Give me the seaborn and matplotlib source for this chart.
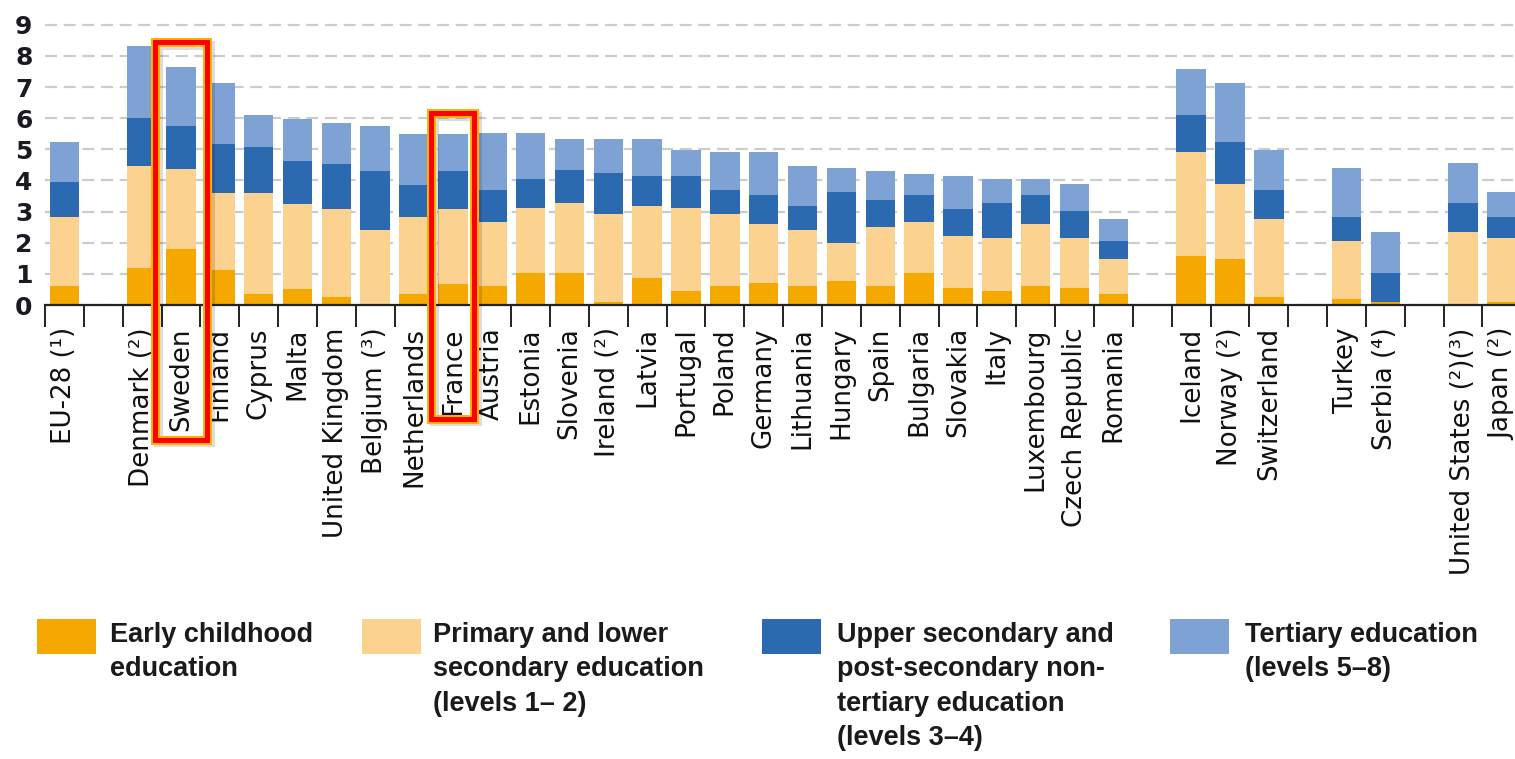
import matplotlib
matplotlib.use("Agg")
import matplotlib.pyplot as plt
import matplotlib.patheffects as pe
from matplotlib.patches import Rectangle
from matplotlib.ticker import FixedLocator
import numpy as np
import pandas as pd
import seaborn as sns

# -----------------------------
# DATA
# -----------------------------
groups = [
    ["EU-28 (¹)"],
    ["Denmark (²)", "Sweden", "Finland", "Cyprus", "Malta", "United Kingdom",
     "Belgium (³)", "Netherlands", "France", "Austria", "Estonia", "Slovenia",
     "Ireland (²)", "Latvia", "Portugal", "Poland", "Germany", "Lithuania",
     "Hungary", "Spain", "Bulgaria", "Slovakia", "Italy", "Luxembourg",
     "Czech Republic", "Romania"],
    ["Iceland", "Norway (²)", "Switzerland"],
    ["Turkey", "Serbia (⁴)"],
    ["United States (²)(³)", "Japan (²)"],
]
countries = [c for g in groups for c in g]

early = [0.60, 1.19, 1.80, 1.11, 0.34, 0.52, 0.26, 0.00, 0.34, 0.68, 0.61,
         1.04, 1.04, 0.11, 0.88, 0.44, 0.62, 0.70, 0.62, 0.78, 0.62, 1.04,
         0.53, 0.45, 0.61, 0.53, 0.35, 1.56, 1.47, 0.27, 0.18, 0.09, 0.00,
         0.09]
primary = [2.22, 3.28, 2.58, 2.50, 3.27, 2.73, 2.82, 2.40, 2.48, 2.40, 2.06,
           2.06, 2.23, 2.82, 2.31, 2.66, 2.31, 1.89, 1.80, 1.21, 1.88, 1.63,
           1.69, 1.71, 1.98, 1.63, 1.12, 3.35, 2.41, 2.49, 1.89, 0.00, 2.33,
           2.07]
upper = [1.13, 1.55, 1.38, 1.55, 1.46, 1.38, 1.46, 1.89, 1.05, 1.21, 1.03,
         0.95, 1.05, 1.30, 0.94, 1.03, 0.77, 0.94, 0.77, 1.63, 0.87, 0.86,
         0.87, 1.11, 0.94, 0.86, 0.60, 1.20, 1.37, 0.94, 0.77, 0.95, 0.94,
         0.68]
tertiary = [1.30, 2.30, 1.88, 1.96, 1.02, 1.36, 1.29, 1.46, 1.62, 1.20, 1.81,
            1.46, 1.02, 1.11, 1.21, 0.86, 1.21, 1.38, 1.29, 0.77, 0.93, 0.69,
            1.04, 0.78, 0.52, 0.86, 0.69, 1.46, 1.89, 1.29, 1.55, 1.29, 1.29,
            0.78]

legend_labels = [
    "Early childhood\neducation",
    "Primary and lower\nsecondary education\n(levels 1– 2)",
    "Upper secondary and\npost-secondary non-\ntertiary education\n(levels 3–4)",
    "Tertiary education\n(levels 5–8)",
]
colors = ["#F5A800", "#FCD291", "#2B69B0", "#7EA2D4"]

# blank slots between the country groups
slot_order = []
for k, g in enumerate(groups):
    if k > 0:
        slot_order.append(" " * k)
    slot_order.extend(g)

# -----------------------------
# FIGURE
# -----------------------------
W, H = 1515, 759
sns.set_theme(style="white")
plt.rcParams["font.family"] = ["DejaVu Sans"]

fig = plt.figure(figsize=(W / 100, H / 100), dpi=100)
ax = fig.add_axes([45 / W, 1 - 305 / H, 1 - 45 / W, (305 - 17) / H])

df = pd.DataFrame({"country": countries, "early": early, "primary": primary,
                   "upper": upper, "tertiary": tertiary})
parts = ["early", "primary", "upper", "tertiary"]
cum = df[parts].cumsum(axis=1)

# stacked bars: draw running totals from the top layer down
for part, color in reversed(list(zip(parts, colors))):
    sns.barplot(x=df["country"], y=cum[part], order=slot_order, color=color,
                width=0.76, saturation=1, errorbar=None, linewidth=0,
                ax=ax, zorder=2)

ax.set_xlabel("")
ax.set_ylabel("")
ax.set_xlim(-0.5, -0.5 + (W - 45) / 38.85)
ax.set_ylim(0, 9.25)
ax.set_yticks(range(10))

ax.set_axisbelow(True)
ax.yaxis.grid(True, color="#cccccc", linestyle=(0, (5.4, 3)), linewidth=1.6)
ax.xaxis.grid(False)

sns.despine(ax=ax, left=True)
ax.spines["bottom"].set_linewidth(1.6)
ax.spines["bottom"].set_color("#222222")

ax.tick_params(axis="y", length=0, pad=9, labelsize=18, labelcolor="#1a1a22")
for t in ax.get_yticklabels():
    t.set_fontweight("bold")
ax.tick_params(axis="x", which="major", length=0, pad=16, labelsize=18.8,
               labelrotation=90, labelcolor="#111111")
ax.xaxis.set_minor_locator(FixedLocator(np.arange(len(slot_order) + 1) - 0.5))
ax.tick_params(axis="x", which="minor", bottom=True, length=16, width=1.4,
               color="#222222", direction="out")

# red highlight boxes (half width, top, bottom in data units)
highlight = {"Sweden": (0.67, 8.44, -4.32), "France": (0.553, 6.16, -3.65)}
for name, (hw, top, bot) in highlight.items():
    i = slot_order.index(name)
    box = Rectangle((i - hw, bot), 2 * hw, top - bot, fill=False,
                    edgecolor="#FF0000", linewidth=3.6, clip_on=False, zorder=6)
    box.set_path_effects([
        pe.SimpleLineShadow(offset=(2, -2), shadow_color="k", alpha=0.15,
                            linewidth=6.5),
        pe.Stroke(linewidth=6.5, foreground="#FFB300"),
        pe.Normal(),
    ])
    ax.add_patch(box)

# -----------------------------
# LEGEND (swatch aligned with first line)
# -----------------------------
swatch_x = [37, 362, 762, 1170]
text_x = [110, 433, 837, 1245]
for sx, tx, label, color in zip(swatch_x, text_x, legend_labels, colors):
    fig.add_artist(Rectangle((sx / W, 1 - 654 / H), 59 / W, 35 / H,
                             transform=fig.transFigure, facecolor=color,
                             edgecolor="none"))
    fig.text(tx / W, 1 - 622 / H, label, ha="left", va="top", fontsize=19.5,
             fontweight="bold", family="Liberation Sans", color="#1a1a1a",
             linespacing=1.42)

fig.savefig("out.png", dpi=100)
